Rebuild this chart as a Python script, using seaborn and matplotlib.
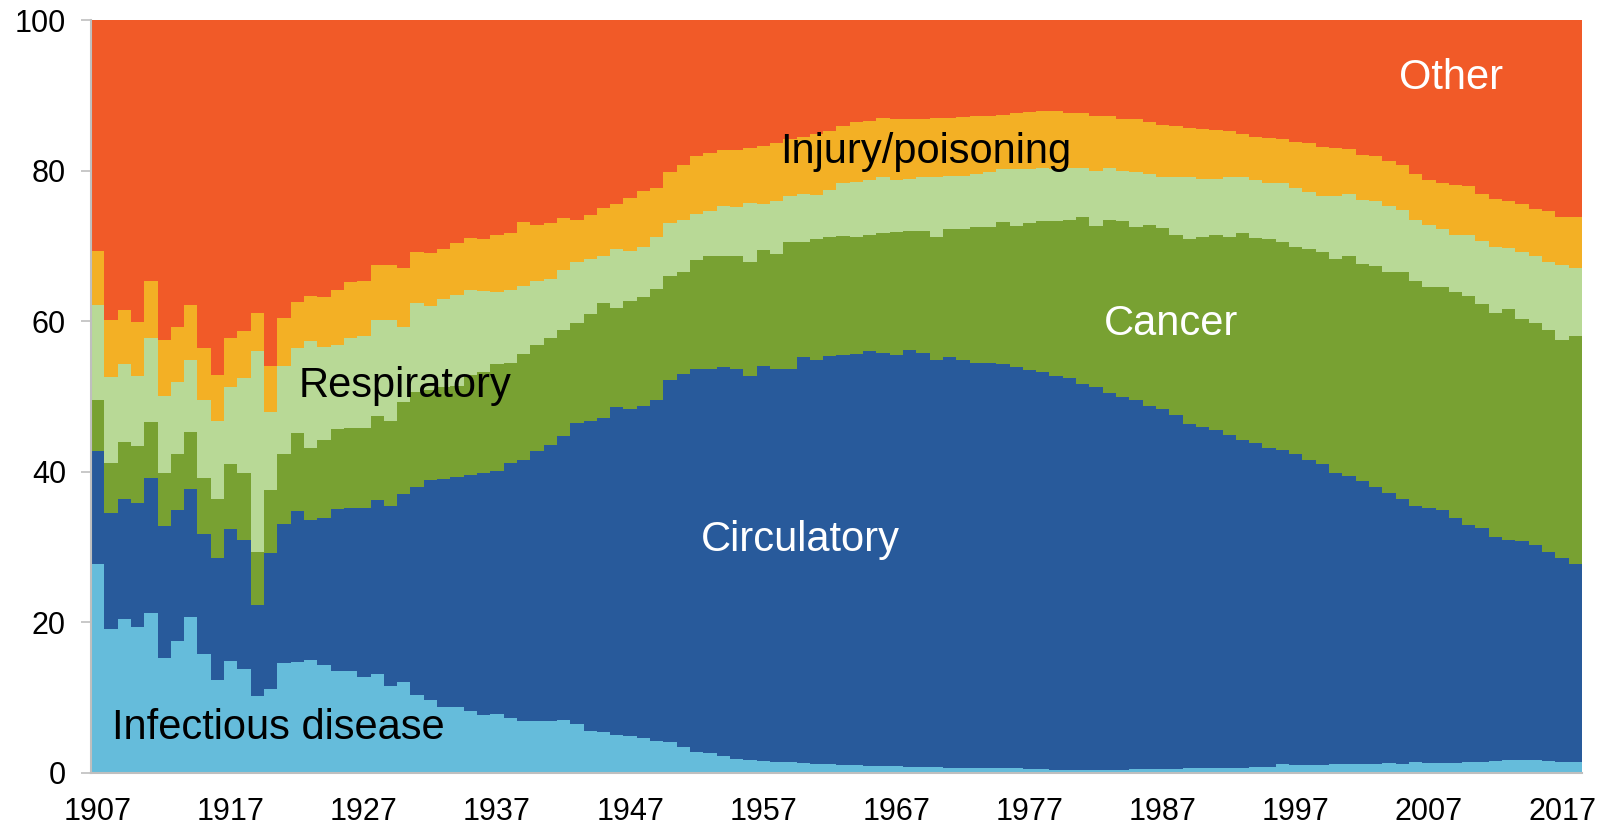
import numpy as np
import pandas as pd
import matplotlib
matplotlib.use("Agg")
import matplotlib.pyplot as plt
import seaborn as sns

years = list(range(1907, 2019))

# Cumulative upper boundaries of each stacked band (% of deaths)
infectious_top = [
    27.7, 19.1, 20.5, 19.4, 21.2, 15.3, 17.5, 20.7, 15.8, 12.3,
    14.9, 13.8, 10.2, 11.1, 14.6, 14.8, 15.0, 14.4, 13.5, 13.6,
    12.7, 13.2, 11.6, 12.1, 10.4, 9.7, 8.7, 8.7, 8.2, 7.7,
    7.9, 7.3, 6.9, 6.9, 6.9, 7.1, 6.5, 5.6, 5.4, 5.1,
    4.9, 4.6, 4.3, 4.1, 3.5, 2.8, 2.6, 2.2, 1.8, 1.7,
    1.6, 1.5, 1.4, 1.3, 1.2, 1.2, 1.0, 1.0, 0.9, 0.9,
    0.9, 0.8, 0.8, 0.8, 0.7, 0.7, 0.7, 0.6, 0.6, 0.6,
    0.5, 0.5, 0.4, 0.4, 0.4, 0.4, 0.4, 0.4, 0.5, 0.5,
    0.5, 0.5, 0.6, 0.6, 0.6, 0.7, 0.7, 0.8, 0.8, 1.2,
    1.1, 1.1, 1.1, 1.2, 1.2, 1.2, 1.2, 1.3, 1.2, 1.4,
    1.3, 1.3, 1.3, 1.5, 1.5, 1.6, 1.7, 1.7, 1.7, 1.6,
    1.5, 1.5,
]
circulatory_top = [
    42.7, 34.5, 36.4, 35.9, 39.2, 32.8, 34.9, 37.7, 31.7, 28.6,
    32.4, 31.0, 22.3, 29.2, 33.1, 34.8, 33.6, 33.9, 35.0, 35.2,
    35.2, 36.3, 35.5, 37.0, 38.0, 38.9, 39.1, 39.3, 39.6, 39.9,
    40.1, 41.2, 41.6, 42.7, 43.5, 44.7, 46.5, 46.7, 47.1, 48.6,
    48.4, 48.8, 49.6, 52.2, 53.0, 53.7, 53.7, 53.9, 53.7, 52.7,
    54.0, 53.7, 53.7, 55.2, 54.8, 55.4, 55.5, 55.7, 56.0, 55.8,
    55.5, 56.2, 55.8, 54.8, 55.2, 54.8, 54.5, 54.5, 54.3, 53.9,
    53.5, 53.2, 52.7, 52.4, 51.6, 51.2, 50.4, 49.9, 49.5, 48.8,
    48.3, 47.6, 46.3, 46.0, 45.5, 44.9, 44.2, 43.8, 43.2, 42.9,
    42.4, 41.6, 41.1, 39.8, 39.5, 38.8, 38.0, 37.2, 36.4, 35.5,
    35.2, 34.9, 33.9, 32.9, 32.5, 31.4, 31.0, 30.8, 30.3, 29.3,
    28.5, 27.7,
]
cancer_top = [
    49.6, 41.2, 43.9, 43.4, 46.6, 39.9, 42.3, 45.3, 39.2, 36.4,
    41.1, 39.8, 29.3, 37.6, 42.4, 45.2, 43.2, 44.2, 45.7, 45.8,
    45.8, 47.4, 46.7, 49.3, 50.6, 50.8, 51.2, 51.4, 52.8, 53.2,
    54.3, 54.5, 55.6, 56.8, 57.8, 58.8, 59.8, 60.9, 62.4, 61.7,
    62.7, 63.2, 64.3, 66.0, 66.6, 68.1, 68.6, 68.7, 68.7, 67.9,
    69.4, 68.9, 70.5, 70.5, 70.9, 71.2, 71.3, 71.2, 71.5, 71.7,
    71.9, 72.0, 72.0, 71.2, 72.2, 72.2, 72.5, 72.5, 73.2, 72.7,
    73.0, 73.3, 73.3, 73.5, 73.8, 72.6, 73.4, 73.3, 72.5, 72.8,
    72.4, 71.5, 70.9, 71.2, 71.5, 71.2, 71.7, 71.1, 70.9, 70.5,
    69.9, 69.6, 69.2, 68.3, 68.7, 67.6, 67.3, 66.5, 66.5, 65.4,
    64.5, 64.5, 63.9, 63.4, 62.3, 61.1, 61.6, 60.3, 59.8, 58.8,
    57.5, 58.0,
]
respiratory_top = [
    62.2, 52.6, 54.3, 52.7, 57.8, 50.1, 51.9, 54.9, 49.6, 46.8,
    51.2, 52.4, 56.1, 48.0, 54.0, 56.4, 57.4, 56.6, 56.8, 57.8,
    58.0, 60.1, 60.1, 59.2, 62.4, 62.0, 63.0, 63.5, 64.2, 64.0,
    63.9, 64.1, 64.7, 65.4, 65.6, 66.8, 67.9, 68.3, 68.6, 69.6,
    69.3, 69.9, 71.2, 73.0, 73.5, 74.3, 74.7, 75.3, 75.1, 75.7,
    75.5, 76.0, 76.6, 76.9, 76.8, 77.4, 78.3, 78.5, 78.7, 79.2,
    78.7, 78.9, 79.1, 79.2, 79.3, 79.3, 79.5, 79.8, 80.2, 80.2,
    80.2, 80.4, 80.2, 80.4, 80.4, 80.0, 80.4, 80.0, 79.8, 79.5,
    79.1, 79.2, 79.1, 78.9, 78.9, 79.2, 79.1, 78.7, 78.4, 78.4,
    77.7, 77.2, 76.6, 76.6, 76.9, 76.1, 75.9, 75.3, 74.8, 73.5,
    72.8, 72.3, 71.5, 71.5, 70.7, 69.9, 69.7, 69.2, 68.6, 67.9,
    67.4, 67.1,
]
injury_top = [
    69.3, 60.1, 61.5, 59.9, 65.3, 57.5, 59.2, 62.2, 56.4, 52.8,
    57.8, 58.7, 61.1, 54.1, 60.4, 62.6, 63.3, 63.2, 64.1, 65.2,
    65.4, 67.4, 67.4, 67.1, 69.2, 69.0, 69.6, 70.4, 71.1, 70.9,
    71.5, 71.7, 73.2, 72.8, 73.0, 73.7, 73.5, 74.1, 75.0, 75.5,
    76.4, 77.3, 77.7, 79.8, 80.8, 81.9, 82.3, 82.7, 82.7, 83.0,
    83.3, 83.6, 84.2, 84.4, 84.9, 85.3, 85.9, 86.4, 86.6, 87.0,
    86.9, 86.8, 86.9, 87.0, 87.0, 87.1, 87.2, 87.2, 87.4, 87.7,
    87.8, 87.9, 87.9, 87.7, 87.6, 87.2, 87.2, 86.9, 86.8, 86.4,
    86.1, 85.9, 85.6, 85.5, 85.4, 85.3, 84.9, 84.5, 84.3, 84.2,
    83.8, 83.6, 83.1, 83.0, 82.9, 82.1, 82.0, 81.3, 80.7, 79.5,
    78.7, 78.4, 78.1, 77.9, 76.9, 76.2, 75.9, 75.6, 74.9, 74.6,
    73.9, 73.8,
]
other_share = [100.0 - v for v in injury_top]

categories = ["Other", "Injury/poisoning", "Respiratory", "Cancer",
              "Circulatory", "Infectious disease"]
colors = ["#F15A28", "#F3B025", "#B8D996", "#78A132", "#285A9B", "#65BCDB"]
x_tick_labels = [str(y) for y in years[::10]]
y_ticks = [0, 20, 40, 60, 80, 100]

df = pd.DataFrame({
    "year": [str(y) for y in years],
    "Infectious disease": infectious_top,
    "Circulatory": circulatory_top,
    "Cancer": cancer_top,
    "Respiratory": respiratory_top,
    "Injury/poisoning": injury_top,
})
df["Other"] = np.array(injury_top) + np.array(other_share)

sns.set_theme(style="white")
plt.rcParams["font.family"] = ["Liberation Sans", "DejaVu Sans"]

fig = plt.figure(figsize=(16.06, 8.26), dpi=100)
ax = fig.add_axes([91 / 1606, 1 - 773 / 826, (1582 - 91) / 1606, (773 - 20) / 826])

for cat, col in zip(categories, colors):
    sns.barplot(data=df, x="year", y=cat, color=col, saturation=1,
                width=1.0, linewidth=0, ax=ax, order=list(df["year"]))
for p in ax.patches:
    p.set_antialiased(False)

ax.set_xlim(-0.5, len(years) - 0.5)
ax.set_ylim(0, 100)
ax.set_xticks(range(0, len(years), 10))
ax.set_xticklabels(x_tick_labels)
ax.set_yticks(y_ticks)
ax.set_yticklabels([str(v) for v in y_ticks])
ax.set_xlabel("")
ax.set_ylabel("")
ax.tick_params(axis="x", length=0, pad=17, labelsize=22, colors="black")
ax.tick_params(axis="y", length=7, width=1.2, color="#BFBFBF", pad=11,
               labelsize=22, labelcolor="black", left=True)
for s in ["top", "right"]:
    ax.spines[s].set_visible(False)
for s in ["left", "bottom"]:
    ax.spines[s].set_color("#BFBFBF")
    ax.spines[s].set_linewidth(1.5)
    ax.spines[s].set_zorder(5)

labels = [
    ("Other", 101.7, 92.3, "white"),
    ("Injury/poisoning", 62.2, 82.5, "black"),
    ("Respiratory", 23.1, 51.4, "black"),
    ("Cancer", 80.6, 59.6, "white"),
    ("Circulatory", 52.8, 31.0, "white"),
    ("Infectious disease", 13.6, 6.0, "black"),
]
for text, x, y, c in labels:
    ax.text(x, y, text, color=c, fontsize=30, ha="center", va="center", zorder=6)

fig.savefig("out.png", dpi=100)
